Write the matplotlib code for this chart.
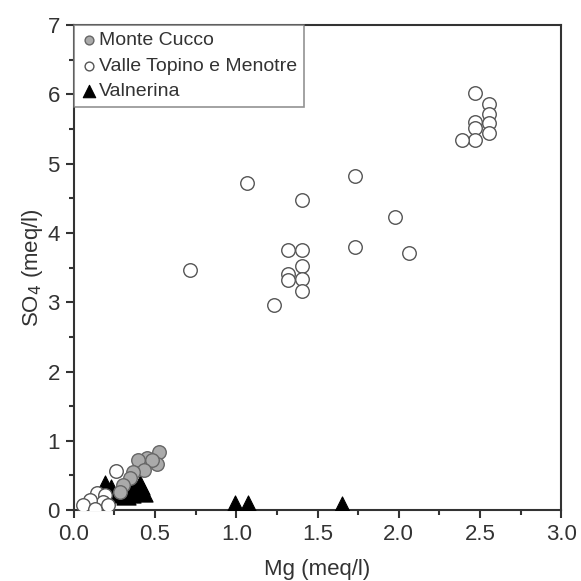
import matplotlib
matplotlib.use("Agg")
import matplotlib.pyplot as plt
from matplotlib.ticker import MultipleLocator, FormatStrFormatter

plt.rcParams['font.family'] = ['Liberation Sans', 'DejaVu Sans']

# Monte Cucco (grey circles)
mc_mg = [0.526, 0.452, 0.513, 0.396, 0.479, 0.431, 0.366, 0.345, 0.304, 0.283]
mc_so4 = [0.84, 0.75, 0.67, 0.72, 0.72, 0.58, 0.55, 0.46, 0.36, 0.26]

# Valle Topino e Menotre (white circles)
vt_mg = [2.47, 2.557, 2.557, 2.557, 2.47, 2.47, 2.557, 2.47, 2.39,
         1.731, 1.403, 1.978, 1.317, 1.403, 1.731, 2.06, 1.403, 1.317,
         1.317, 1.403, 1.403, 1.234, 1.066, 0.715,
         0.257, 0.14, 0.19, 0.18, 0.099, 0.057, 0.13, 0.211]
vt_so4 = [6.02, 5.86, 5.71, 5.59, 5.60, 5.51, 5.44, 5.34, 5.34,
          4.82, 4.48, 4.23, 3.75, 3.75, 3.79, 3.71, 3.52, 3.40,
          3.32, 3.34, 3.16, 2.96, 4.72, 3.46,
          0.56, 0.24, 0.22, 0.12, 0.14, 0.07, 0.02, 0.07]

# Valnerina (black triangles)
vn_mg = [0.19, 0.232, 0.27, 0.32, 0.376, 0.407, 0.427, 0.35, 0.99, 1.074, 1.649]
vn_so4 = [0.36, 0.31, 0.24, 0.22, 0.29, 0.36, 0.26, 0.25, 0.07, 0.07, 0.06]

fig = plt.figure(figsize=(5.81, 5.81), dpi=100)
ax = fig.add_axes([0.127, 0.122, 0.839, 0.835])

h3 = ax.scatter(vn_mg, vn_so4, marker='^', s=190, c='black', edgecolors='black',
                linewidths=0.8, zorder=3, label='Valnerina')
h2 = ax.scatter(vt_mg, vt_so4, marker='o', s=95, facecolors='white', edgecolors='#555555',
                linewidths=1.0, zorder=4, label='Valle Topino e Menotre')
h1 = ax.scatter(mc_mg, mc_so4, marker='o', s=95, facecolors='#aaaaaa', edgecolors='#666666',
                linewidths=1.0, zorder=5, label='Monte Cucco')

ax.set_xlim(0, 3.0)
ax.set_ylim(0, 7)
ax.xaxis.set_major_locator(MultipleLocator(0.5))
ax.xaxis.set_minor_locator(MultipleLocator(0.25))
ax.yaxis.set_major_locator(MultipleLocator(1))
ax.yaxis.set_minor_locator(MultipleLocator(0.5))
ax.xaxis.set_major_formatter(FormatStrFormatter('%.1f'))

for sp in ax.spines.values():
    sp.set_linewidth(1.5)
    sp.set_color('#333333')

ax.tick_params(axis='both', which='major', direction='out', length=6, width=1.5,
               labelsize=16, colors='#333333', top=False, right=False, pad=4)
ax.tick_params(axis='both', which='minor', direction='out', length=3.5, width=1.5,
               colors='#333333', top=False, right=False)

ax.set_xlabel('Mg (meq/l)', fontsize=16, color='#333333', labelpad=10)
ax.set_ylabel('SO$_4$ (meq/l)', fontsize=16, color='#333333', labelpad=2)

leg = ax.legend(handles=[h1, h2, h3], loc='upper left', fontsize=14, frameon=True,
                fancybox=False, edgecolor='#777777', borderaxespad=0.0,
                handletextpad=0.05, handlelength=0.9, markerscale=0.65,
                borderpad=0.35, labelspacing=0.4)
leg.get_frame().set_linewidth(1.2)
for t in leg.get_texts():
    t.set_color('#333333')

fig.savefig('out.png', dpi=100)
